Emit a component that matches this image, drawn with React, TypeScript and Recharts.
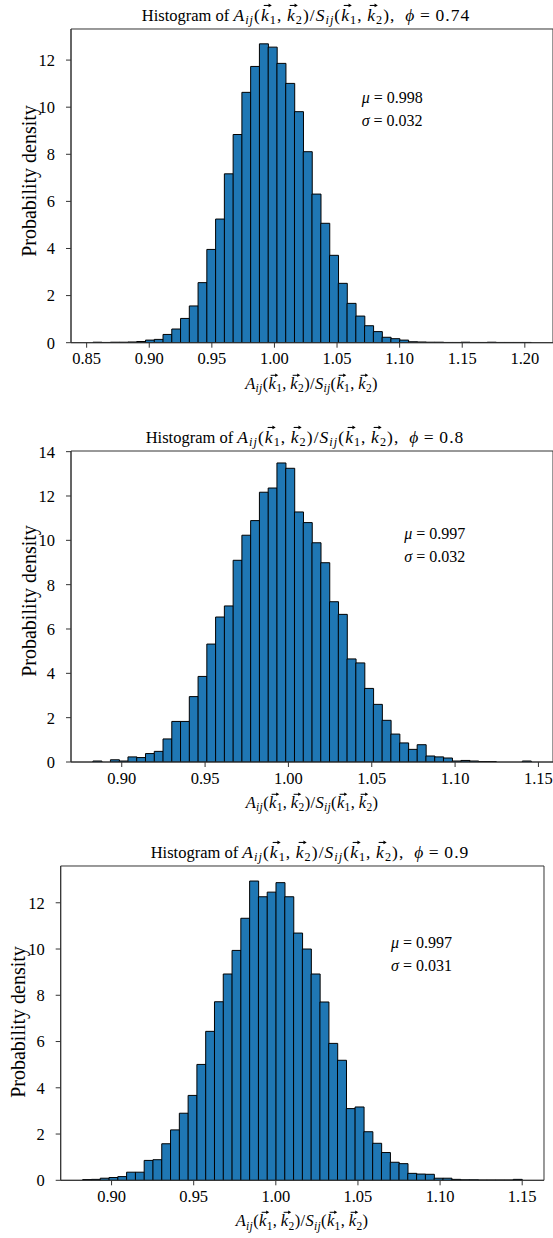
import React from "react";
import { BarChart, Bar, XAxis, YAxis, ReferenceArea } from "recharts";

const serif = "'Liberation Serif', Tinos, 'Times New Roman', serif";
const BAR_FILL = "#1f77b4";
const SPINE = "#333";

// phi = 0.74 — 50 bins between lo and hi, density per bin
const lo74 = 0.855;
const hi74 = 1.205;
const dens74 = [
  0.02, 0.01, 0.02, 0.02, 0.03, 0.05, 0.11, 0.14, 0.35, 0.58,
  1.03, 1.56, 2.55, 3.96, 5.25, 7.17, 8.84, 10.63, 11.73, 12.69,
  12.55, 11.86, 11.01, 9.81, 8.11, 6.31, 5.07, 3.71, 2.52, 1.67,
  1.13, 0.72, 0.47, 0.23, 0.17, 0.11, 0.04, 0.03, 0.02, 0.02,
  0.01, 0.01, 0.02, 0.01, 0.01, 0.02, 0.01, 0.01, 0.01, 0.01,
];
const xTicks74 = [0.85, 0.9, 0.95, 1.0, 1.05, 1.1, 1.15, 1.2];
const yTicks74 = [0, 2, 4, 6, 8, 10, 12];

// phi = 0.8
const lo80 = 0.8827;
const hi80 = 1.1456;
const dens80 = [
  0.045, 0, 0.1, 0.045, 0.23, 0.2, 0.38, 0.48, 1.04, 1.83,
  1.83, 2.95, 3.86, 5.32, 6.54, 7.04, 9.1, 10.23, 10.89, 12.17,
  12.36, 13.49, 13.25, 11.28, 10.8, 9.89, 8.99, 7.23, 6.66, 4.65,
  4.47, 3.32, 2.6, 1.88, 1.26, 0.86, 0.57, 0.78, 0.27, 0.23,
  0.18, 0.045, 0.07, 0.045, 0.02, 0.02, 0, 0, 0, 0.045,
];
const xTicks80 = [0.9, 0.95, 1.0, 1.05, 1.1, 1.15];
const yTicks80 = [0, 2, 4, 6, 8, 10, 12, 14];

// phi = 0.9
const lo90 = 0.8824;
const hi90 = 1.1499;
const dens90 = [
  0.03, 0.04, 0.09, 0.12, 0.16, 0.35, 0.35, 0.86, 0.89, 1.58,
  2.18, 2.9, 3.67, 5.01, 6.44, 7.72, 8.92, 9.94, 11.33, 12.94,
  12.26, 12.46, 12.87, 12.26, 10.69, 10.0, 8.92, 7.71, 5.92, 5.19,
  3.1, 3.17, 2.1, 1.6, 1.2, 0.78, 0.72, 0.3, 0.27, 0.26,
  0.09, 0.09, 0.04, 0.02, 0.02, 0.01, 0.01, 0.01, 0.01, 0.04,
];
const xTicks90 = [0.9, 0.95, 1.0, 1.05, 1.1, 1.15];
const yTicks90 = [0, 2, 4, 6, 8, 10, 12];

type Box = { left: number; top: number; right: number; bottom: number };

function Histogram({
  lo,
  hi,
  density,
  xTicks,
  yTicks,
  yMax,
  box,
}: {
  lo: number;
  hi: number;
  density: number[];
  xTicks: number[];
  yTicks: number[];
  yMax: number;
  box: Box;
}) {
  const binW = (hi - lo) / density.length;
  const pad = (hi - lo) * 0.05;
  const data = density.map((d, i) => ({ x: lo + binW * (i + 0.5), d }));
  const CW = 560;
  const axisW = 40;
  const axisH = 30;
  const mTop = 10;
  const height = mTop + (box.bottom - box.top) + axisH;
  const tick = { fill: "#000", fontSize: 16.5, fontFamily: serif };
  return (
    <div style={{ position: "absolute", left: 0, top: box.top - mTop }}>
      <BarChart
        width={CW}
        height={height}
        data={data}
        barCategoryGap={0}
        barGap={0}
        margin={{ top: mTop, right: CW - box.right, bottom: 0, left: box.left - axisW }}
      >
        <XAxis
          dataKey="x"
          type="number"
          domain={[lo - pad, hi + pad]}
          allowDataOverflow
          ticks={xTicks}
          interval={0}
          tickFormatter={(v) => v.toFixed(2)}
          height={axisH}
          tickSize={5}
          tickMargin={5}
          axisLine={{ stroke: SPINE }}
          tickLine={{ stroke: SPINE }}
          tick={tick}
        />
        <YAxis
          type="number"
          domain={[0, yMax]}
          allowDataOverflow
          ticks={yTicks}
          interval={0}
          width={axisW}
          tickSize={5}
          tickMargin={11}
          axisLine={{ stroke: SPINE }}
          tickLine={{ stroke: SPINE }}
          tick={tick}
        />
        <Bar dataKey="d" fill={BAR_FILL} stroke="#000" strokeWidth={1} isAnimationActive={false} />
        <ReferenceArea
          x1={lo - pad}
          x2={hi + pad}
          y1={0}
          y2={yMax}
          fill="none"
          stroke={SPINE}
          strokeWidth={1}
        />
      </BarChart>
    </div>
  );
}

function Sub({ children, italic }: { children: React.ReactNode; italic?: boolean }) {
  return (
    <span
      style={{
        fontSize: "0.7em",
        position: "relative",
        top: "0.28em",
        fontStyle: italic ? "italic" : "normal",
      }}
    >
      {children}
    </span>
  );
}

// italic k with a small drawn arrow above it (\vec k)
function VecK() {
  return (
    <span style={{ position: "relative", display: "inline-block", fontStyle: "italic" }}>
      k
      <svg
        viewBox="0 0 10 6"
        style={{
          position: "absolute",
          left: "0.14em",
          top: "-0.2em",
          width: "0.46em",
          height: "0.28em",
          overflow: "visible",
        }}
      >
        <path d="M0 3 H8" stroke="#000" strokeWidth={1.3} fill="none" />
        <path d="M6 0.6 L10 3 L6 5.4 Z" fill="#000" />
      </svg>
    </span>
  );
}

function Ratio() {
  return (
    <>
      <i>A</i>
      <Sub italic>ij</Sub>(<VecK />
      <Sub>1</Sub>,{"\u2009"}
      <VecK />
      <Sub>2</Sub>)/<i>S</i>
      <Sub italic>ij</Sub>(<VecK />
      <Sub>1</Sub>,{"\u2009"}
      <VecK />
      <Sub>2</Sub>)
    </>
  );
}

function Txt({
  x,
  baseline,
  size,
  center,
  spacing,
  children,
}: {
  x: number;
  baseline: number;
  size: number;
  center?: boolean;
  spacing?: string;
  children: React.ReactNode;
}) {
  return (
    <div
      style={{
        position: "absolute",
        left: x,
        top: baseline - size * 0.837,
        transform: center ? "translateX(-50%)" : undefined,
        whiteSpace: "nowrap",
        fontFamily: serif,
        fontSize: size,
        lineHeight: `${size}px`,
        letterSpacing: spacing,
        color: "#000",
      }}
    >
      {children}
    </div>
  );
}

function YLabel({ cx, cy }: { cx: number; cy: number }) {
  return (
    <div
      style={{
        position: "absolute",
        left: cx,
        top: cy,
        transform: "translate(-50%, -50%) rotate(-90deg)",
        whiteSpace: "nowrap",
        fontFamily: serif,
        fontSize: 20,
        lineHeight: "20px",
        color: "#000",
      }}
    >
      Probability density
    </div>
  );
}

function Title({ x, baseline, phi }: { x: number; baseline: number; phi: string }) {
  return (
    <Txt x={x} baseline={baseline} size={16.5} center>
      Histogram of{" "}
      <span style={{ fontSize: "1.06em", letterSpacing: "0.06em" }}>
        <Ratio />,{"\u2002"}
        <i>ϕ</i>
        {"\u2009"}={"\u2009"}
        {phi}
      </span>
    </Txt>
  );
}

function Stats({ x, baseline, mu, sigma }: { x: number; baseline: number; mu: string; sigma: string }) {
  return (
    <>
      <Txt x={x} baseline={baseline} size={16}>
        <i>μ</i>
        {"\u2005"}={"\u2005"}
        {mu}
      </Txt>
      <Txt x={x} baseline={baseline + 23.4} size={16}>
        <i>σ</i>
        {"\u2005"}={"\u2005"}
        {sigma}
      </Txt>
    </>
  );
}

export default function App() {
  return (
    <div
      style={{
        position: "absolute",
        left: 0,
        top: 0,
        width: 553,
        height: 1238,
        overflow: "hidden",
        background: "#fff",
      }}
    >
      <Histogram
        lo={lo74}
        hi={hi74}
        density={dens74}
        xTicks={xTicks74}
        yTicks={yTicks74}
        yMax={13.32}
        box={{ left: 71, top: 29, right: 553, bottom: 342.7 }}
      />
      <Histogram
        lo={lo80}
        hi={hi80}
        density={dens80}
        xTicks={xTicks80}
        yTicks={yTicks80}
        yMax={14.03}
        box={{ left: 71, top: 450.7, right: 553, bottom: 761.7 }}
      />
      <Histogram
        lo={lo90}
        hi={hi90}
        density={dens90}
        xTicks={xTicks90}
        yTicks={yTicks90}
        yMax={13.59}
        box={{ left: 60.7, top: 866, right: 544, bottom: 1180.3 }}
      />

      <Title x={306} baseline={20.7} phi="0.74" />
      <Title x={305} baseline={442.4} phi="0.8" />
      <Title x={310} baseline={857.7} phi="0.9" />

      <Txt x={311.5} baseline={390} size={16.5} spacing="0.02em" center>
        <Ratio />
      </Txt>
      <Txt x={312} baseline={808.7} size={16.5} spacing="0.02em" center>
        <Ratio />
      </Txt>
      <Txt x={302} baseline={1227.3} size={16.5} spacing="0.02em" center>
        <Ratio />
      </Txt>

      <YLabel cx={29} cy={181} />
      <YLabel cx={29} cy={601} />
      <YLabel cx={18} cy={1022} />

      <Stats x={361.7} baseline={103.3} mu="0.998" sigma="0.032" />
      <Stats x={404.3} baseline={539} mu="0.997" sigma="0.032" />
      <Stats x={391} baseline={948.3} mu="0.997" sigma="0.031" />
    </div>
  );
}
